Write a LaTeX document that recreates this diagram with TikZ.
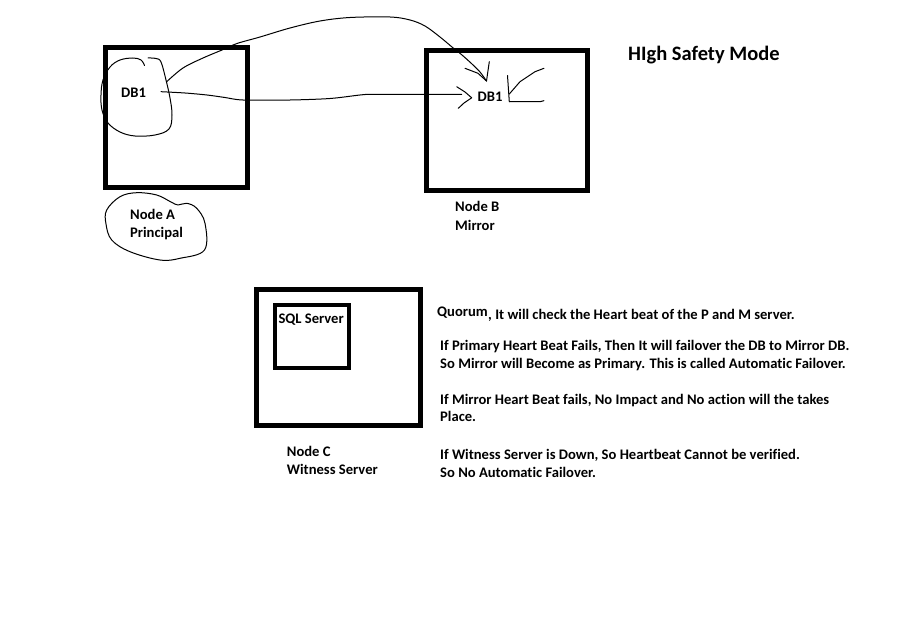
\documentclass[tikz,border=0pt]{standalone}
\usepackage{fontspec}
\setmainfont[Ligatures=NoCommon]{Carlito}
\begin{document}
\begin{tikzpicture}[x=1pt,y=-1pt,
  thickbox/.style={draw=black,line width=5pt,rectangle,inner sep=0pt},
  thinbox/.style={draw=black,line width=4pt,rectangle,inner sep=0pt},
  lbl/.style={anchor=base west,inner sep=0pt,font=\fontsize{14.6}{17}\selectfont\bfseries},
  ttl/.style={anchor=base west,inner sep=0pt,font=\fontsize{20.5}{24}\selectfont\bfseries},
  pen/.style={draw=black,line width=1pt,line cap=round,line join=round}]
\useasboundingbox[fill=white] (0,0) rectangle (913,618);

% boxes
\node[thickbox,minimum width=142pt,minimum height=140pt] (boxA) at (176.5,117.5) {};
\node[thickbox,minimum width=161pt,minimum height=140pt] (boxB) at (507,120.5) {};
\node[thickbox,minimum width=164pt,minimum height=136pt] (boxC) at (338.8,357.2) {};
\node[thinbox,minimum width=74pt,minimum height=63pt] (sql) at (311.6,336.7) {};

% texts
\node[ttl] (title) at (628,60) {HIgh Safety Mode};
\node[lbl] (dbA) at (121,97.3) {DB1};
\node[lbl] (dbB) at (477.5,101.7) {DB1};
\node[lbl] (nA1) at (130,219.5) {Node A};
\node[lbl] (nA2) at (130,237.5) {Principal};
\node[lbl] (nB1) at (455,211.7) {Node B};
\node[lbl] (nB2) at (455,230) {Mirror};
\node[lbl] (sqlt) at (278.3,323.3) {SQL Server};
\node[lbl] (nC1) at (286.7,456) {Node C};
\node[lbl] (nC2) at (286.7,474) {Witness Server};
\node[lbl] (q1) at (437,316) {Quorum};
\node[lbl] (q2) at (488,319.3) {, It will check the Heart beat of the P and M server.};
\node[lbl] (t1) at (440,350) {If Primary Heart Beat Fails, Then It will failover the DB to Mirror DB.};
\node[lbl] (t2) at (440,368.3) {So Mirror will Become as Primary. This is called Automatic Failover.};
\node[lbl] (t3) at (440,404.3) {If Mirror Heart Beat fails, No Impact and No action will the takes};
\node[lbl] (t4) at (440,421.7) {Place.};
\node[lbl] (t5) at (440,459) {If Witness Server is Down, So Heartbeat Cannot be verified.};
\node[lbl] (t6) at (440,477.7) {So No Automatic Failover.};

% hand-drawn coordinates
\coordinate (arcS) at (166.7,81.7);
\coordinate (arcT) at (486.5,81);
\coordinate (lnS) at (161,91.7);
\coordinate (lnE) at (461.7,94.3);
\coordinate (lnT) at (471.7,97.8);
\coordinate (rT) at (509.3,101.7);

% loop around DB1 (Node A)
\draw[pen] plot[smooth,tension=0.6] coordinates {(144.5,65.5) (141,60) (133,58) (120,60) (110,67) (103,80) (101,95) (102,110) (108,123) (120,132) (135,136) (155,135) (169,129) (172,115) (170,98) (166,80) (161,62) (156,58.5) (148,58)};

% loop around Node A Principal
\draw[pen] plot[smooth cycle,tension=0.6] coordinates {(106.7,210) (120,196.7) (136.7,192.7) (156.7,195) (171,202) (178,205) (186.7,203.3) (196.7,208.3) (205,223.3) (204.5,250) (180,258.3) (160,260) (130,251.7) (111.7,240) (106,224)};

% arc from DB1 (A) to DB1 (B)
\draw[pen] plot[smooth,tension=0.55] coordinates {(arcS) (183,68) (203,58) (222,50) (237,43.5) (260,37) (290,28) (320,21) (350,17.5) (390,17) (410,20) (425,26) (440,37) (452,47) (462,55) (472,64) (480,72) (arcT)};
\draw[pen] (465,68.3) -- (478,73.3) -- (arcT);
\draw[pen] (489.3,61.7) -- (arcT);

% line from DB1 (A) to DB1 (B)
\draw[pen] plot[smooth,tension=0.5] coordinates {(lnS) (185,93) (207,95) (225,97.5) (243,100) (290,100) (330,98.5) (360,95) (373,94.3) (420,94.3) (lnE)};
\draw[pen] (456.7,86.7) -- (465,92) -- (lnT) -- (464,103) -- (458.3,108.3);

% arrowhead on right of DB1 (B)
\draw[pen] (507.5,75.5) -- (rT);
\draw[pen] (509.3,94) -- (520,81.7) -- (535,71.7) -- (544,68.3);
\draw[pen] (rT) -- (540,101.7) -- (544,100.7);
\end{tikzpicture}
\end{document}
